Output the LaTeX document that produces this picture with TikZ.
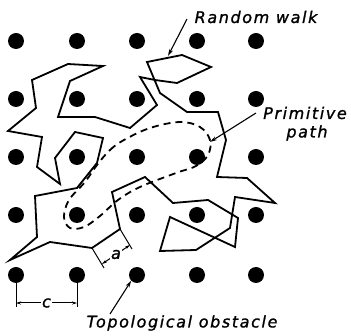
\documentclass[tikz,border=0pt]{standalone}
\usepackage{fontspec}
\newfontfamily\labfont[LetterSpace=10,FakeBold=1.2]{DejaVu Sans}
\usetikzlibrary{arrows.meta}
\begin{document}
\begin{tikzpicture}[x=1pt,y=-1pt,
  dot/.style={circle,fill=black,inner sep=0pt,minimum size=16pt},
  walk/.style={line width=1.8pt,line join=miter},
  prim/.style={line width=1.8pt,dash pattern=on 7pt off 5pt},
  lbl/.style={font=\labfont\itshape\fontsize{16}{18}\selectfont,inner sep=0pt},
  pointer/.style={line width=1.1pt,-{Stealth[length=7pt,width=4pt]}},
  dimline/.style={line width=1pt},
  dimarr/.style={line width=1pt,{Stealth[length=5pt,width=3pt]}-{Stealth[length=5pt,width=3pt]}}]
\useasboundingbox (0,0) rectangle (351,336);
% lattice of obstacles
\foreach \x [count=\i] in {16,77,137,197,256}
  \foreach \y [count=\j] in {41,99,157,215,275}
    \node[dot] (d\i\j) at (\x,\y) {};
% random walk
\draw[walk] (103,66) -- (68,64) -- (32,80) -- (36,108) -- (8,131) -- (42,137)
  -- (37,167) -- (60,184) -- (55,158) -- (75,132) -- (103,138) -- (97,163)
  -- (77,188) -- (35,196) -- (37,237) -- (10,260) -- (50,242) -- (92,248)
  -- (120,229) -- (112,192) -- (145,177) -- (173,203) -- (208,200) -- (238,218)
  -- (235,247) -- (170,217) -- (160,251) -- (196,250) -- (230,228) -- (235,197)
  -- (275,203) -- (247,178) -- (217,177) -- (226,140) -- (218,112) -- (187,112)
  -- (160,93) -- (147,62) -- (182,55) -- (211,67) -- (177,83) -- (155,80)
  -- (140,77) -- (157,105) -- (130,128) -- (95,117) -- (58,117) -- (70,81) -- cycle;
% primitive path
\draw[prim] plot[smooth cycle,tension=0.6] coordinates {
  (97,165) (110,150) (124,140) (150,128) (180,122) (200,127) (210,140)
  (208,155) (196,166) (176,173) (140,187) (118,200) (100,216) (84,227)
  (70,228) (64,217) (69,200) (85,182)};
% labels
\node[lbl] (rw) at (256,17) {Random walk};
\node[lbl] (pp1) at (305,113) {Primitive};
\node[lbl] (pp2) at (307,133) {path};
\node[lbl] (to) at (182,323) {Topological obstacle};
% pointers
\coordinate (rwtail) at (187,19);
\coordinate (rwtip) at (168,56);
\draw[pointer] (rwtail) -- (rwtip);
\coordinate (pptail) at (256,113);
\coordinate (pptip) at (210,142);
\draw[pointer] (pptail) -- (pptip);
\coordinate (totail) at (110,314);
\draw[pointer] (totail) -- (d35.south west);
% dimension c
\coordinate (c1) at (16,307);
\coordinate (c2) at (77,307);
\draw[dimline] (d15) -- (c1);
\draw[dimline] (d25) -- (c2);
\coordinate (c1a) at (16,303);
\coordinate (c2a) at (77,303);
\draw[dimarr] (c1a) -- node[lbl,fill=white,inner sep=1.5pt] (clab) {c} (c2a);
% dimension a
\coordinate (a0) at (92,248);
\coordinate (b0) at (120,229);
\coordinate (a1) at (104,268);
\coordinate (b1) at (132,249);
\draw[dimline] (a0) -- (a1);
\draw[dimline] (b0) -- (b1);
\coordinate (a2) at (102,264);
\coordinate (b2) at (130,245);
\draw[dimarr] (a2) -- node[lbl,fill=white,inner sep=1.5pt] (alab) {a} (b2);
\end{tikzpicture}
\end{document}
